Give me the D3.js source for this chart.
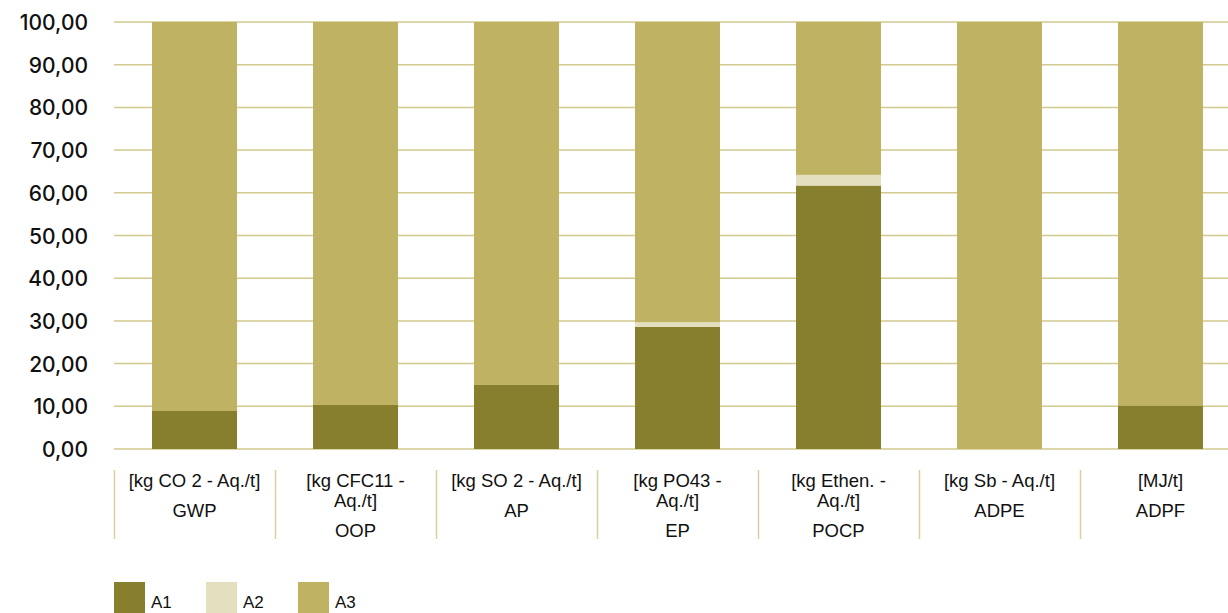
<!DOCTYPE html>
<html>
<head>
<meta charset="utf-8">
<script src="https://cdn.jsdelivr.net/npm/d3@7"></script>
<style>
body { margin: 0; background: #fff; }
text { font-family: "Liberation Sans", Arial, Helvetica, sans-serif; fill: #111; }
text.ytick { font-family: Inter, "Liberation Sans", Arial, sans-serif; font-weight: 500; }
</style>
</head>
<body>
<script>
var codes = ["GWP", "OOP", "AP", "EP", "POCP", "ADPE", "ADPF"];
var units = [
	["[kg CO 2 - Aq./t]"],
	["[kg CFC11 -", "Aq./t]"],
	["[kg SO 2 - Aq./t]"],
	["[kg PO43 -", "Aq./t]"],
	["[kg Ethen. -", "Aq./t]"],
	["[kg Sb - Aq./t]"],
	["[MJ/t]"]
];
var seriesNames = ["A1", "A2", "A3"];
var a1 = [8.9, 10.3, 15.0, 28.6, 61.7, 0, 10.2];
var a2 = [0, 0, 0, 1.1, 2.5, 0, 0];
var a3 = a1.map(function(d, i) { return 100 - d - a2[i]; });
var yTicks = [0, 10, 20, 30, 40, 50, 60, 70, 80, 90, 100];
var colors = ["#877e2e", "#e4dfbf", "#bfb363"];

var w = 1228;
var h = 613;
var svg = d3.select("body").append("svg").attr("width", w).attr("height", h);

var x = d3.scaleBand()
	.domain(codes)
	.range([114, 1241])
	.paddingInner(0.472)
	.paddingOuter(0.236);

var y = d3.scaleLinear().domain([0, 100]).range([449, 22]);

// grid lines
svg.selectAll("line.grid")
	.data(yTicks)
	.enter()
	.append("line")
	.attr("class", "grid")
	.attr("x1", 114)
	.attr("x2", w)
	.attr("y1", function(d) { return y(d); })
	.attr("y2", function(d) { return y(d); })
	.attr("stroke", "#d2c98e")
	.attr("stroke-width", 1.5);

// y labels
svg.selectAll("text.ytick")
	.data(yTicks)
	.enter()
	.append("text")
	.attr("class", "ytick")
	.attr("x", 88)
	.attr("y", function(d) { return y(d) + 8; })
	.attr("text-anchor", "end")
	.attr("font-size", 21)
	.text(function(d) { return d3.format(".2f")(d).replace(".", ","); });

var rows = codes.map(function(c, i) {
	return { code: c, A1: a1[i], A2: a2[i], A3: a3[i] };
});
var stacked = d3.stack().keys(seriesNames)(rows);

svg.selectAll("g.series")
	.data(stacked)
	.enter()
	.append("g")
	.attr("fill", function(d, i) { return colors[i]; })
	.selectAll("rect")
	.data(function(d) { return d; })
	.enter()
	.append("rect")
	.attr("x", function(d) { return x(d.data.code); })
	.attr("width", x.bandwidth())
	.attr("y", function(d) { return y(d[1]); })
	.attr("height", function(d) { return y(d[0]) - y(d[1]); });

// category separators and labels
var step = x.step();
var cat = svg.selectAll("g.cat")
	.data(codes)
	.enter()
	.append("g")
	.attr("class", "cat")
	.attr("transform", function(d) { return "translate(" + (x(d) - x.paddingOuter() * step) + ",0)"; });

cat.append("line")
	.attr("x1", 0.5).attr("x2", 0.5)
	.attr("y1", 470).attr("y2", 539)
	.attr("stroke", "#d8d0a0")
	.attr("stroke-width", 1.5);

cat.each(function(d, i) {
	var g = d3.select(this);
	var cx = step / 2;
	units[i].forEach(function(line, j) {
		g.append("text")
			.attr("x", cx)
			.attr("y", 487 + j * 20)
			.attr("text-anchor", "middle")
			.attr("font-size", 18.5)
			.text(line);
	});
	g.append("text")
		.attr("x", cx)
		.attr("y", 487 + (units[i].length - 1) * 20 + 30)
		.attr("text-anchor", "middle")
		.attr("font-size", 18.5)
		.text(d);
});

// legend
var legend = svg.selectAll("g.legend")
	.data(seriesNames)
	.enter()
	.append("g")
	.attr("transform", function(d, i) { return "translate(" + (114 + i * 92) + ",582)"; });

legend.append("rect")
	.attr("width", 31)
	.attr("height", 31)
	.attr("fill", function(d, i) { return colors[i]; });

legend.append("text")
	.attr("x", 37)
	.attr("y", 26)
	.attr("font-size", 17)
	.text(function(d) { return d; });
</script>
</body>
</html>
